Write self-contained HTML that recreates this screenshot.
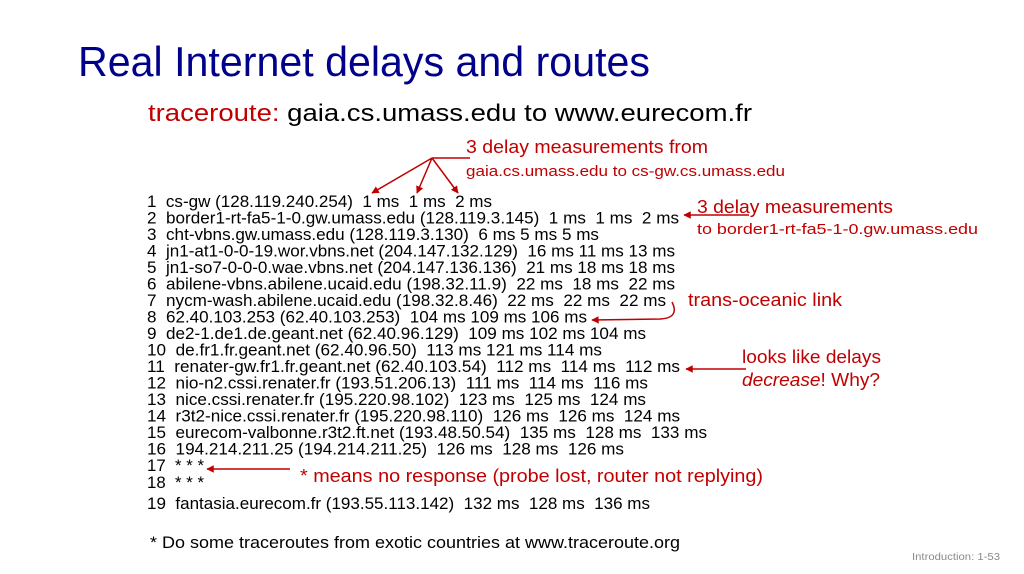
<!DOCTYPE html>
<html><head><meta charset="utf-8"><style>
html,body{margin:0;padding:0;background:#fff;}
svg{display:block;}
text{white-space:pre;}
.m{font-family:"Liberation Sans",Arial,sans-serif;font-size:17px;fill:#000;}
.r{font-family:"Liberation Sans",sans-serif;fill:#c00000;}
</style></head><body>
<svg width="1024" height="574" viewBox="0 0 1024 574" xmlns="http://www.w3.org/2000/svg" xml:space="preserve">
<defs><marker id="ah" viewBox="0 0 10 10" refX="9" refY="5" markerWidth="5" markerHeight="5" orient="auto"><path d="M0,0 L10,5 L0,10 z" fill="#c00000"/></marker></defs>
<text x="78" y="76" font-family="Liberation Sans,sans-serif" font-size="42" fill="#00008b" textLength="572" lengthAdjust="spacingAndGlyphs">Real Internet delays and routes</text>
<text x="148" y="121" font-family="Liberation Sans,sans-serif" font-size="24" textLength="604" lengthAdjust="spacingAndGlyphs"><tspan fill="#c00000">traceroute:</tspan> <tspan fill="#000">gaia.cs.umass.edu to www.eurecom.fr</tspan></text>

<g>
<text class="m" x="147" y="207" textLength="345" lengthAdjust="spacingAndGlyphs">1  cs-gw (128.119.240.254)  1 ms  1 ms  2 ms</text>
<text class="m" x="147" y="223.5" textLength="532" lengthAdjust="spacingAndGlyphs">2  border1-rt-fa5-1-0.gw.umass.edu (128.119.3.145)  1 ms  1 ms  2 ms</text>
<text class="m" x="147" y="240" textLength="452" lengthAdjust="spacingAndGlyphs">3  cht-vbns.gw.umass.edu (128.119.3.130)  6 ms 5 ms 5 ms</text>
<text class="m" x="147" y="256.5" textLength="528" lengthAdjust="spacingAndGlyphs">4  jn1-at1-0-0-19.wor.vbns.net (204.147.132.129)  16 ms 11 ms 13 ms</text>
<text class="m" x="147" y="273" textLength="528" lengthAdjust="spacingAndGlyphs">5  jn1-so7-0-0-0.wae.vbns.net (204.147.136.136)  21 ms 18 ms 18 ms</text>
<text class="m" x="147" y="289.5" textLength="528" lengthAdjust="spacingAndGlyphs">6  abilene-vbns.abilene.ucaid.edu (198.32.11.9)  22 ms  18 ms  22 ms</text>
<text class="m" x="147" y="306" textLength="519" lengthAdjust="spacingAndGlyphs">7  nycm-wash.abilene.ucaid.edu (198.32.8.46)  22 ms  22 ms  22 ms</text>
<text class="m" x="147" y="322.5" textLength="440" lengthAdjust="spacingAndGlyphs">8  62.40.103.253 (62.40.103.253)  104 ms 109 ms 106 ms</text>
<text class="m" x="147" y="339" textLength="499" lengthAdjust="spacingAndGlyphs">9  de2-1.de1.de.geant.net (62.40.96.129)  109 ms 102 ms 104 ms</text>
<text class="m" x="147" y="355.5" textLength="455" lengthAdjust="spacingAndGlyphs">10  de.fr1.fr.geant.net (62.40.96.50)  113 ms 121 ms 114 ms</text>
<text class="m" x="147" y="372" textLength="533" lengthAdjust="spacingAndGlyphs">11  renater-gw.fr1.fr.geant.net (62.40.103.54)  112 ms  114 ms  112 ms</text>
<text class="m" x="147" y="388.5" textLength="501" lengthAdjust="spacingAndGlyphs">12  nio-n2.cssi.renater.fr (193.51.206.13)  111 ms  114 ms  116 ms</text>
<text class="m" x="147" y="405" textLength="499" lengthAdjust="spacingAndGlyphs">13  nice.cssi.renater.fr (195.220.98.102)  123 ms  125 ms  124 ms</text>
<text class="m" x="147" y="421.5" textLength="533" lengthAdjust="spacingAndGlyphs">14  r3t2-nice.cssi.renater.fr (195.220.98.110)  126 ms  126 ms  124 ms</text>
<text class="m" x="147" y="438" textLength="560" lengthAdjust="spacingAndGlyphs">15  eurecom-valbonne.r3t2.ft.net (193.48.50.54)  135 ms  128 ms  133 ms</text>
<text class="m" x="147" y="454.5" textLength="477" lengthAdjust="spacingAndGlyphs">16  194.214.211.25 (194.214.211.25)  126 ms  128 ms  126 ms</text>
<text class="m" x="147" y="471" textLength="57" lengthAdjust="spacingAndGlyphs">17  * * *</text>
<text class="m" x="147" y="488" textLength="57" lengthAdjust="spacingAndGlyphs">18  * * *</text>
<text class="m" x="147" y="509" textLength="503" lengthAdjust="spacingAndGlyphs">19  fantasia.eurecom.fr (193.55.113.142)  132 ms  128 ms  136 ms</text>
</g>

<g>
<text class="r" x="466" y="153" font-size="18" textLength="242" lengthAdjust="spacingAndGlyphs">3 delay measurements from</text>
<text class="r" x="466" y="176" font-size="15" textLength="319" lengthAdjust="spacingAndGlyphs">gaia.cs.umass.edu to cs-gw.cs.umass.edu</text>
<line x1="470" y1="158" x2="432" y2="158" stroke="#c00000" stroke-width="1.5"/>
<line x1="432" y1="158" x2="372" y2="193" stroke="#c00000" stroke-width="1.5" marker-end="url(#ah)"/>
<line x1="432" y1="158" x2="417" y2="193" stroke="#c00000" stroke-width="1.5" marker-end="url(#ah)"/>
<line x1="432" y1="158" x2="458" y2="193" stroke="#c00000" stroke-width="1.5" marker-end="url(#ah)"/>
</g>
<g>
<text class="r" x="697" y="213" font-size="18" textLength="196" lengthAdjust="spacingAndGlyphs">3 delay measurements</text>
<text class="r" x="697" y="234" font-size="15" textLength="281" lengthAdjust="spacingAndGlyphs">to border1-rt-fa5-1-0.gw.umass.edu</text>
<line x1="749" y1="215" x2="684" y2="215" stroke="#c00000" stroke-width="1.5" marker-end="url(#ah)"/>
</g>
<g>
<text class="r" x="688" y="306" font-size="18" textLength="154" lengthAdjust="spacingAndGlyphs">trans-oceanic link</text>
<path d="M672,302 Q680,318 660,319 L592,320" fill="none" stroke="#c00000" stroke-width="1.5" marker-end="url(#ah)"/>
</g>
<g>
<text class="r" x="742" y="363" font-size="18" textLength="139" lengthAdjust="spacingAndGlyphs">looks like delays</text>
<text class="r" x="742" y="386" font-size="18" textLength="138" lengthAdjust="spacingAndGlyphs"><tspan font-style="italic">decrease</tspan>! Why?</text>
<line x1="746" y1="369" x2="686" y2="369" stroke="#c00000" stroke-width="1.5" marker-end="url(#ah)"/>
</g>
<g>
<text class="r" x="300" y="482" font-size="18" textLength="463" lengthAdjust="spacingAndGlyphs">* means no response (probe lost, router not replying)</text>
<line x1="290" y1="469" x2="207" y2="469" stroke="#c00000" stroke-width="1.5" marker-end="url(#ah)"/>
</g>
<text x="150" y="548" font-family="Liberation Sans,sans-serif" font-size="17" fill="#000" textLength="530" lengthAdjust="spacingAndGlyphs">* Do some traceroutes from exotic countries at www.traceroute.org</text>
<text x="912" y="560" font-family="Liberation Sans,sans-serif" font-size="10" fill="#8a8a8a" textLength="88" lengthAdjust="spacingAndGlyphs">Introduction: 1-53</text>
</svg>
</body></html>
